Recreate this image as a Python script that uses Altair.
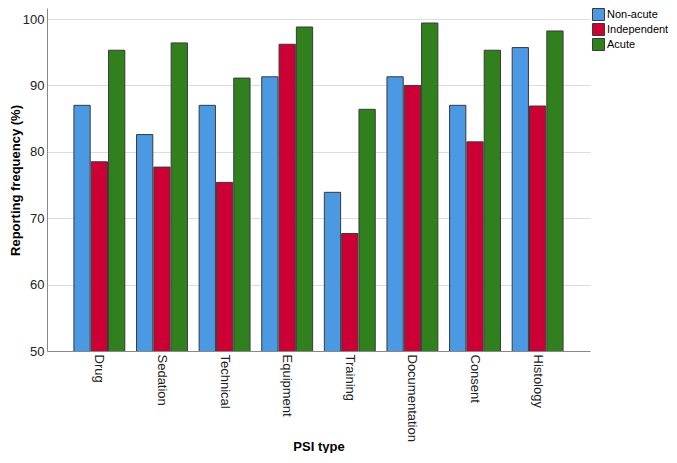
import altair as alt
import pandas as pd

categories = ["Drug", "Sedation", "Technical", "Equipment", "Training",
              "Documentation", "Consent", "Histology"]
groups = ["Non-acute", "Independent", "Acute"]
non_acute = [87.0, 82.6, 87.0, 91.3, 73.9, 91.3, 87.0, 95.7]
independent = [78.5, 77.7, 75.4, 96.2, 67.7, 90.0, 81.5, 86.9]
acute = [95.3, 96.4, 91.1, 98.8, 86.4, 99.4, 95.3, 98.2]
colors = ["#4B99E3", "#CC0035", "#31801E"]
y_ticks = [50, 60, 70, 80, 90, 100]

rows = []
for i, c in enumerate(categories):
    for g, vals in zip(groups, [non_acute, independent, acute]):
        rows.append({"PSI type": c, "Group": g, "Value": vals[i]})
df = pd.DataFrame(rows)

FONT = "Liberation Sans"

chart = alt.Chart(df).mark_bar(stroke="#3a3a3a", strokeWidth=1, clip=True).encode(
    x=alt.X("PSI type:N", sort=categories,
            scale=alt.Scale(paddingInner=0.187, paddingOuter=0.43),
            axis=alt.Axis(title="PSI type", labelAngle=90, ticks=False,
                          labelFontSize=13, labelColor="#222", labelPadding=3,
                          domainColor="#888", titleFontSize=13,
                          titleFontWeight="bold", titleColor="#000",
                          titleY=99, titleBaseline="alphabetic", grid=False)),
    xOffset=alt.XOffset("Group:N", sort=groups, scale=alt.Scale(paddingInner=0.06)),
    y=alt.Y("Value:Q",
            scale=alt.Scale(domain=[50, 101.66], nice=False, zero=False),
            axis=alt.Axis(title="Reporting frequency (%)", values=y_ticks,
                          ticks=False, labelFontSize=13, labelColor="#222",
                          labelPadding=3, domainColor="#888",
                          gridColor="#dddddd", gridWidth=1,
                          titleFontSize=13, titleFontWeight="bold",
                          titleColor="#000", titleX=-32, titleY=172,
                          titleAngle=270, titleBaseline="middle",
                          titleAlign="center")),
    color=alt.Color("Group:N", sort=groups,
                    scale=alt.Scale(domain=groups, range=colors),
                    legend=alt.Legend(title=None, orient="none", legendX=545,
                                      legendY=0, symbolType="square",
                                      symbolSize=144, symbolStrokeColor="#3a3a3a",
                                      symbolStrokeWidth=1, symbolOpacity=1,
                                      labelFontSize=11, labelColor="#000",
                                      labelOffset=2, rowPadding=-3,
                                      labelLimit=200, padding=0))
).properties(
    width=543, height=343,
    autosize=alt.AutoSizeParams(type="none"),
    padding={"left": 39, "top": 0, "right": 79, "bottom": 102}
).configure(font=FONT).configure_view(stroke=None)

chart.save("out.html", embed_options={"renderer": "svg", "actions": False})
